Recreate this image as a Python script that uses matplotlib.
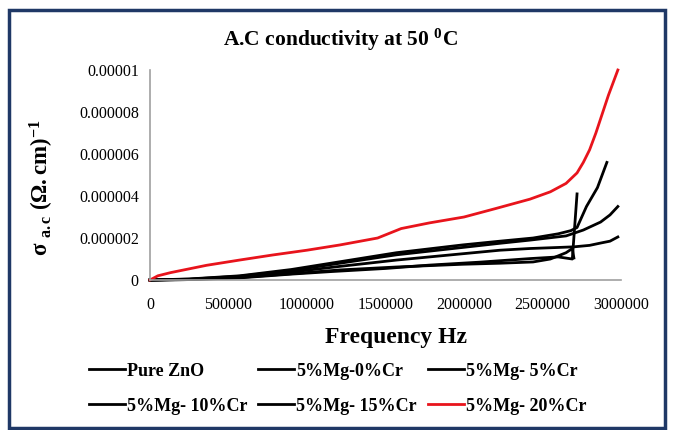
import matplotlib
matplotlib.use("Agg")
import matplotlib.pyplot as plt
from matplotlib.lines import Line2D
from matplotlib.patches import Rectangle

plt.rcParams['font.family'] = ['Liberation Serif', 'DejaVu Serif']
plt.rcParams['mathtext.fontset'] = 'custom'
plt.rcParams['mathtext.rm'] = 'Liberation Serif'
plt.rcParams['mathtext.bf'] = 'Liberation Serif:bold'
plt.rcParams['mathtext.it'] = 'Liberation Serif:italic'

# frequency (MHz) and a.c conductivity (x1e-6 (ohm.cm)^-1) for each sample
f_zno = [0, 0.25, 0.57, 0.9, 1.15, 1.5, 1.78, 2.1, 2.42, 2.6, 2.69, 2.72]
s_zno = [0, 0.02, 0.10, 0.28, 0.40, 0.55, 0.71, 0.85, 1.02, 1.10, 1.0, 4.1]

f_mg0 = [0, 0.25, 0.57, 0.9, 1.21, 1.57, 1.99, 2.23, 2.44, 2.55, 2.65, 2.69, 2.70]
s_mg0 = [0, 0.02, 0.12, 0.30, 0.48, 0.62, 0.75, 0.80, 0.86, 1.0, 1.3, 1.5, 1.05]

f_mg5 = [0, 0.25, 0.57, 0.9, 1.21, 1.57, 1.99, 2.23, 2.44, 2.6, 2.68, 2.72, 2.78, 2.85, 2.91]
s_mg5 = [0, 0.05, 0.20, 0.50, 0.87, 1.30, 1.67, 1.85, 2.00, 2.20, 2.35, 2.50, 3.50, 4.40, 5.60]

f_mg10 = [0, 0.25, 0.57, 0.9, 1.21, 1.57, 1.99, 2.23, 2.42, 2.65, 2.76, 2.87, 2.93, 2.98]
s_mg10 = [0, 0.04, 0.18, 0.45, 0.80, 1.20, 1.55, 1.75, 1.90, 2.10, 2.38, 2.76, 3.10, 3.50]

f_mg15 = [0, 0.25, 0.57, 0.9, 1.21, 1.57, 1.78, 1.99, 2.23, 2.42, 2.6, 2.7, 2.8, 2.87, 2.93, 2.98]
s_mg15 = [0, 0.03, 0.14, 0.38, 0.65, 0.95, 1.10, 1.25, 1.42, 1.50, 1.55, 1.58, 1.65, 1.76, 1.85, 2.05]

f_mg20 = [0, 0.05, 0.13, 0.36, 0.57, 0.78, 1.0, 1.21, 1.45, 1.6, 1.78, 2.0, 2.2, 2.42,
          2.55, 2.65, 2.72, 2.76, 2.8, 2.84, 2.88, 2.92, 2.95, 2.98]
s_mg20 = [0, 0.20, 0.35, 0.70, 0.95, 1.19, 1.42, 1.67, 2.00, 2.45, 2.72, 3.00, 3.40, 3.85,
          4.20, 4.60, 5.10, 5.60, 6.20, 7.00, 7.90, 8.80, 9.40, 10.0]

labels = ['Pure ZnO', '5%Mg-0%Cr', '5%Mg- 5%Cr', '5%Mg- 10%Cr', '5%Mg- 15%Cr', '5%Mg- 20%Cr']
series = [(f_zno, s_zno), (f_mg0, s_mg0), (f_mg5, s_mg5),
          (f_mg10, s_mg10), (f_mg15, s_mg15), (f_mg20, s_mg20)]
colors = ['black'] * 5 + ['#e8141c']

yticks = [0, 2e-6, 4e-6, 6e-6, 8e-6, 1e-5]
ytick_labels = ['0', '0.000002', '0.000004', '0.000006', '0.000008', '0.00001']
xticks = [0, 500000, 1000000, 1500000, 2000000, 2500000, 3000000]

fig = plt.figure(figsize=(6.75, 4.3), dpi=100)
ax = fig.add_axes([0.2222, 0.3488, 0.6978, 0.4884])

for (f, s), c in zip(series, colors):
    ax.plot([v * 1e6 for v in f], [v * 1e-6 for v in s], color=c, lw=2.0, clip_on=False)

ax.set_xlim(0, 3000000)
ax.set_ylim(0, 1e-5)
ax.set_xticks(xticks)
ax.set_xticklabels([str(t) for t in xticks])
ax.set_yticks(yticks)
ax.set_yticklabels(ytick_labels)
ax.tick_params(length=0, labelsize=11.5)
ax.tick_params(axis='x', pad=12)
ax.tick_params(axis='y', pad=8)
for sp in ['top', 'right']:
    ax.spines[sp].set_visible(False)
for sp in ['left', 'bottom']:
    ax.spines[sp].set_color('#a0a0a0')
    ax.spines[sp].set_linewidth(1.2)

fig.text(0.505, 0.907, r'A.C conductivity at 50 $\mathbf{^{0}}$C', ha='center', va='center',
         fontsize=15.5, fontweight='bold')
fig.text(0.587, 0.214, 'Frequency Hz', ha='center', va='center', fontsize=17, fontweight='bold')
fig.text(0.062, 0.563, r'$\mathbf{\sigma}$ $_{\mathbf{a.c}}$ $\mathbf{(\Omega.cm)^{-1}}$',
         ha='center', va='center', rotation=90, fontsize=16.5)

# legend laid out row by row
handles = [Line2D([], [], color=c, lw=2.0) for c in colors]
order = [0, 3, 1, 4, 2, 5]
fig.legend([handles[i] for i in order], [labels[i] for i in order], ncol=3,
           loc='center', bbox_to_anchor=(0.5, 0.096), frameon=False,
           prop={'weight': 'bold', 'size': 13}, handlelength=2.0, handletextpad=0.1,
           columnspacing=0.6, labelspacing=1.0)

# outer frame
fig.patches.append(Rectangle((0.013, 0.004), 0.972, 0.973, transform=fig.transFigure,
                             fill=False, edgecolor='#1f3866', linewidth=2.5))

fig.savefig('out.png', dpi=100)
